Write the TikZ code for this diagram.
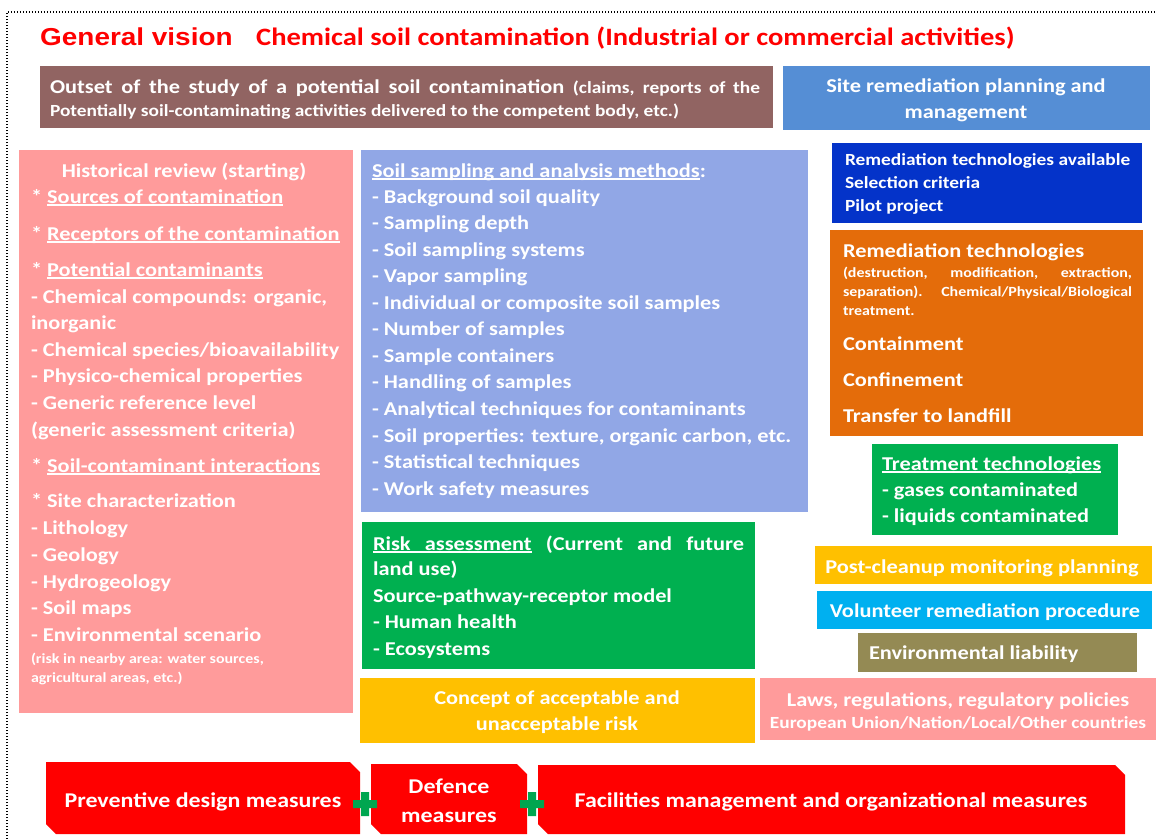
\documentclass[tikz,border=0pt]{standalone}
\usepackage{fontspec}
\setmainfont{Carlito}[FakeStretch=1.14]
\newfontfamily\arialfont{Liberation Sans}[FakeStretch=1.14]

\definecolor{histpink}{HTML}{FF9B9B}
\definecolor{sampblue}{HTML}{91A7E6}
\definecolor{outbrown}{HTML}{916462}
\definecolor{planblue}{HTML}{558ED5}
\definecolor{techblue}{HTML}{0433C9}
\definecolor{remorange}{HTML}{E46C0A}
\definecolor{riskgreen}{HTML}{00B050}
\definecolor{accyellow}{HTML}{FFC000}
\definecolor{volcyan}{HTML}{00B0F0}
\definecolor{liabolive}{HTML}{948A54}
\definecolor{plusgreen}{HTML}{00A650}

% underline that sits close to the baseline
\newcommand{\undl}[1]{\setbox0\hbox{#1}\rlap{\rule[-2.6pt]{\wd0}{1.2pt}}\box0\relax}
% underlined stretchable space
\newcommand{\ulsp}{\leaders\hrule height -1.4pt depth 2.6pt\hskip\fontdimen2\font plus\fontdimen3\font minus\fontdimen4\font\relax}
\newcommand{\fsbody}{\bfseries\fontsize{19.6}{24}\selectfont}
\newcommand{\fsbig}{\bfseries\fontsize{21}{25}\selectfont}
\newcommand{\fsmed}{\bfseries\fontsize{17}{20}\selectfont}
\newcommand{\fssmall}{\bfseries\fontsize{14}{18}\selectfont}

\tikzset{
  box/.style={anchor=north west, inner sep=0pt, outer sep=0pt},
  wt/.style={text=white, inner sep=0pt, outer sep=0pt},
  lft/.style={wt, anchor=base west, font=\fsbody},
  mid/.style={wt, anchor=base, font=\fsbody},
}

\begin{document}
\begin{tikzpicture}[x=1pt,y=-1pt]
\useasboundingbox (0,0) rectangle (1156,839);
\fill[white] (0,0) rectangle (1156,839);
\draw[line width=1.4pt, dash pattern=on 1.4pt off 1.6pt] (7,845) -- (7,12) -- (1162,12);

% titles
\node[anchor=base west, inner sep=0pt, text=red, font=\arialfont\bfseries\fontsize{24.5}{28}\selectfont] (gen) at (40,45) {General vision};
\node[anchor=base west, inner sep=0pt, text=red, font=\bfseries\fontsize{25}{28}\selectfont] (chem) at (256,45) {Chemical soil contamination (Industrial or commercial activities)};

% top boxes
\node[box, fill=outbrown, minimum width=733, minimum height=62] (outset) at (40,66) {};
\node[lft] (outset1) at (50,93) {\makebox[710pt][s]{Outset of the study of a potential soil contamination {\fsmed (claims, reports of the}}};
\node[lft, font=\fsmed] (outset2) at (50,116) {Potentially soil-contaminating activities delivered to the competent body, etc.)};

\node[box, fill=planblue, minimum width=367, minimum height=64] (plan) at (783,66) {};
\node[mid] (plan1) at (966,92) {Site remediation planning and};
\node[mid] (plan2) at (966,118) {management};

% historical review
\node[box, fill=histpink, minimum width=334, minimum height=563] (hist) at (19,150) {};
\node[mid] (hist0) at (184,177) {Historical review (starting)};
\node[lft] (hist1) at (31,203) {* \undl{Sources of contamination}};
\node[lft] (hist2) at (31,240) {* \undl{Receptors of the contamination}};
\node[lft] (hist3) at (31,276) {* \undl{Potential contaminants}};
\node[lft] (hist4) at (31,303) {- Chemical compounds: organic,};
\node[lft] (hist5) at (31,329) {inorganic};
\node[lft] (hist6) at (31,356) {- Chemical species/bioavailability};
\node[lft] (hist7) at (31,382) {- Physico-chemical properties};
\node[lft] (hist8) at (31,409) {- Generic reference level};
\node[lft] (hist9) at (31,436) {(generic assessment criteria)};
\node[lft] (hist10) at (31,472) {* \undl{Soil-contaminant interactions}};
\node[lft] (hist11) at (31,507) {* Site characterization};
\node[lft] (hist12) at (31,534) {- Lithology};
\node[lft] (hist13) at (31,561) {- Geology};
\node[lft] (hist14) at (31,588) {- Hydrogeology};
\node[lft] (hist15) at (31,614) {- Soil maps};
\node[lft] (hist16) at (31,641) {- Environmental scenario};
\node[lft, font=\fssmall] (hist17) at (31,663) {(risk in nearby area: water sources,};
\node[lft, font=\fssmall] (hist18) at (31,682) {agricultural areas, etc.)};

% sampling methods
\node[box, fill=sampblue, minimum width=447, minimum height=362] (samp) at (361,150) {};
\node[lft] (samp0) at (372,177) {\undl{Soil sampling and analysis methods}:};
\node[lft] (samp1) at (372,203) {- Background soil quality};
\node[lft] (samp2) at (372,229.6) {- Sampling depth};
\node[lft] (samp3) at (372,256.1) {- Soil sampling systems};
\node[lft] (samp4) at (372,282.7) {- Vapor sampling};
\node[lft] (samp5) at (372,309.2) {- Individual or composite soil samples};
\node[lft] (samp6) at (372,335.8) {- Number of samples};
\node[lft] (samp7) at (372,362.3) {- Sample containers};
\node[lft] (samp8) at (372,388.9) {- Handling of samples};
\node[lft] (samp9) at (372,415.4) {- Analytical techniques for contaminants};
\node[lft] (samp10) at (372,442) {- Soil properties: texture, organic carbon, etc.};
\node[lft] (samp11) at (372,468.5) {- Statistical techniques};
\node[lft] (samp12) at (372,495.1) {- Work safety measures};

% risk assessment
\node[box, fill=riskgreen, minimum width=393, minimum height=147] (risk) at (362,522) {};
\node[lft] (risk1) at (373,550) {\makebox[371pt][s]{\undl{Risk}\ulsp\undl{assessment} (Current and future}};
\node[lft] (risk2) at (373,575) {land use)};
\node[lft] (risk3) at (373,602) {Source-pathway-receptor model};
\node[lft] (risk4) at (373,628) {- Human health};
\node[lft] (risk5) at (373,655) {- Ecosystems};

\node[box, fill=accyellow, minimum width=395, minimum height=65] (accept) at (360,678) {};
\node[mid] (accept1) at (557,704) {Concept of acceptable and};
\node[mid] (accept2) at (557,730) {unacceptable risk};

% remediation column
\node[box, fill=techblue, minimum width=310, minimum height=80] (avail) at (832,143) {};
\node[lft, font=\fsmed] (avail1) at (845,165) {Remediation technologies available};
\node[lft, font=\fsmed] (avail2) at (845,188) {Selection criteria};
\node[lft, font=\fsmed] (avail3) at (845,211) {Pilot project};

\node[box, fill=remorange, minimum width=313, minimum height=206] (remed) at (830,230) {};
\node[lft] (remed1) at (843,257) {Remediation technologies};
\node[lft, font=\fssmall] (remed2) at (843,277) {\makebox[289pt][s]{(destruction, modification, extraction,}};
\node[lft, font=\fssmall] (remed3) at (843,296) {\makebox[289pt][s]{separation). Chemical/Physical/Biological}};
\node[lft, font=\fssmall] (remed4) at (843,315) {treatment.};
\node[lft] (remed5) at (843,350) {Containment};
\node[lft] (remed6) at (843,386) {Confinement};
\node[lft] (remed7) at (843,422) {Transfer to landfill};

\node[box, fill=riskgreen, minimum width=246, minimum height=91] (treat) at (872,444) {};
\node[lft] (treat1) at (882,470) {\undl{Treatment technologies}};
\node[lft] (treat2) at (882,496) {- gases contaminated};
\node[lft] (treat3) at (882,522) {- liquids contaminated};

\node[box, fill=accyellow, minimum width=337, minimum height=38] (post) at (815,546) {};
\node[mid] (post1) at (982,573) {Post-cleanup monitoring planning};
\node[box, fill=volcyan, minimum width=335, minimum height=38] (vol) at (817,591) {};
\node[mid] (vol1) at (985,617) {Volunteer remediation procedure};
\node[box, fill=liabolive, minimum width=279, minimum height=39] (liab) at (858,633) {};
\node[lft] (liab1) at (869,659) {Environmental liability};
\node[box, fill=histpink, minimum width=396, minimum height=62] (laws) at (760,678) {};
\node[mid] (laws1) at (958,706) {Laws, regulations, regulatory policies};
\node[mid, font=\fsmed] (laws2) at (958,728) {European Union/Nation/Local/Other countries};

% measures along the bottom
\fill[red] (46,762) -- (350,762) -- (360,772) -- (360,834) -- (56,834) -- (46,824) -- cycle;
\node[mid, font=\fsbig] (prev) at (203,807) {Preventive design measures};
\fill[red] (371,764) -- (517,764) -- (527,774) -- (527,834) -- (381,834) -- (371,824) -- cycle;
\node[mid, font=\fsbig] (def1) at (449,793) {Defence};
\node[mid, font=\fsbig] (def2) at (449,822) {measures};
\fill[red] (538,765) -- (1115,765) -- (1125,775) -- (1125,834) -- (548,834) -- (538,824) -- cycle;
\node[mid, font=\fsbig] (fac) at (831,807) {Facilities management and organizational measures};
\fill[plusgreen] (353,800) rectangle (377,808) (361,792) rectangle (369,816);
\fill[plusgreen] (520,800) rectangle (544,808) (528,792) rectangle (536,816);
\end{tikzpicture}
\end{document}
